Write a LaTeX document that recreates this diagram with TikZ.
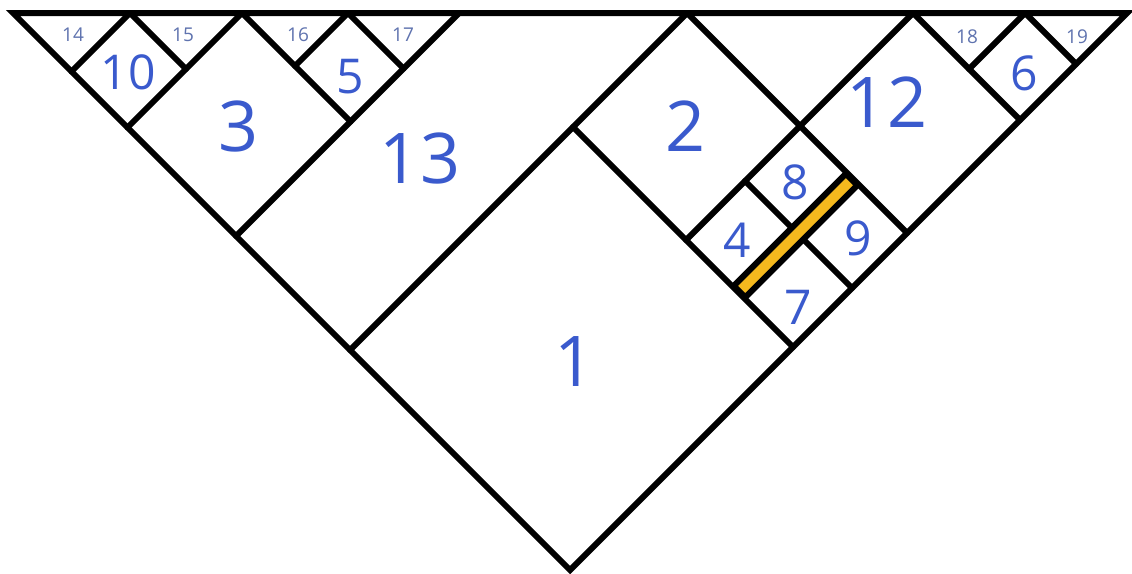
\documentclass[tikz,border=0pt]{standalone}
\usepackage{fontspec}
\setmainfont{Open Sans}
\definecolor{lab}{RGB}{58,90,205}
\definecolor{slab}{RGB}{95,115,175}
\definecolor{barfill}{RGB}{245,185,30}
\begin{document}
\begin{tikzpicture}[x={(0.5pt,-0.5pt)}, y={(0.5pt,0.5pt)},
  edge/.style={draw=black, line width=6pt, line cap=round},
  outline/.style={draw=black, line width=6pt, line join=miter},
  big/.style={font=\fontsize{70}{70}\selectfont, text=lab, inner sep=0pt},
  mid/.style={font=\fontsize{48}{48}\selectfont, text=lab, inner sep=0pt},
  small/.style={font=\fontsize{19}{19}\selectfont, text=slab, inner sep=0pt}]
\fill[white] (0pt,0pt) rectangle (1132pt,-573pt);
\useasboundingbox (0pt,0pt) rectangle (1132pt,-573pt);
% corners of the big triangle (a,b) coordinates
\coordinate (L) at (26,0);
\coordinate (R) at (1140,1114);
\coordinate (A) at (1140,0);
% square 1 / 2 / 13
\coordinate (p1) at (700,0);
\coordinate (p2) at (700,674);
\coordinate (q1) at (700,446);
\coordinate (q2) at (1140,446);
\coordinate (r2) at (1140,674);
% square 12
\coordinate (s1) at (926,446);
\coordinate (s2) at (926,900);
\coordinate (t2) at (1140,900);
% square 6
\coordinate (u1) at (1038,900);
\coordinate (u2) at (1038,1012);
\coordinate (u3) at (1140,1012);
% 13 / 3 boundary
\coordinate (v1) at (472,0);
\coordinate (v2) at (472,446);
% square 3
\coordinate (w1) at (255,0);
\coordinate (w2) at (255,229);
\coordinate (w3) at (472,229);
% square 5
\coordinate (x1) at (361,229);
\coordinate (x2) at (361,335);
\coordinate (x3) at (472,335);
% square 10
\coordinate (y1) at (143,0);
\coordinate (y2) at (143,117);
\coordinate (y3) at (255,117);
% dividers 4/8 and 7/9
\coordinate (d1) at (926,564);
\coordinate (d2) at (1019.5,564);
\coordinate (d3) at (1042.5,564);
\coordinate (d4) at (1140,564);
% yellow bar
\coordinate (b1) at (1019.5,448);
\coordinate (b2) at (1042.5,448);
\coordinate (b3) at (1042.5,672);
\coordinate (b4) at (1019.5,672);

\draw[outline] (L) -- (A) -- (R) -- cycle;
\draw[edge] (p1) -- (p2);
\draw[edge] (q1) -- (q2);
\draw[edge] (p2) -- (r2);
\draw[edge] (s1) -- (s2);
\draw[edge] (s2) -- (t2);
\draw[edge] (u1) -- (u2);
\draw[edge] (u2) -- (u3);
\draw[edge] (v1) -- (v2);
\draw[edge] (w1) -- (w2);
\draw[edge] (w2) -- (w3);
\draw[edge] (x1) -- (x2);
\draw[edge] (x2) -- (x3);
\draw[edge] (y1) -- (y2);
\draw[edge] (y2) -- (y3);
\draw[edge] (d1) -- (d2);
\draw[edge] (d3) -- (d4);
\filldraw[outline, fill=barfill] (b1) -- (b2) -- (b3) -- (b4) -- cycle;

% labels
\node[big] (n1) at (575pt,-362pt) {1};
\node[big] (n2) at (686pt,-126pt) {2};
\node[big] (n3) at (239pt,-126pt) {3};
\node[big] (n12) at (887pt,-102pt) {12};
\node[big] (n13) at (420pt,-158pt) {13};
\node[mid] (n10) at (128pt,-72pt) {10};
\node[mid] (n5) at (350pt,-77pt) {5};
\node[mid] (n6) at (1024pt,-73pt) {6};
\node[mid] (n8) at (795pt,-182pt) {8};
\node[mid] (n4) at (737pt,-240pt) {4};
\node[mid] (n9) at (858pt,-238pt) {9};
\node[mid] (n7) at (798pt,-307pt) {7};
\node[small] (n14) at (73pt,-35pt) {14};
\node[small] (n15) at (183pt,-35pt) {15};
\node[small] (n16) at (298pt,-35pt) {16};
\node[small] (n17) at (403pt,-35pt) {17};
\node[small] (n18) at (967pt,-37pt) {18};
\node[small] (n19) at (1077pt,-37pt) {19};
\end{tikzpicture}
\end{document}
